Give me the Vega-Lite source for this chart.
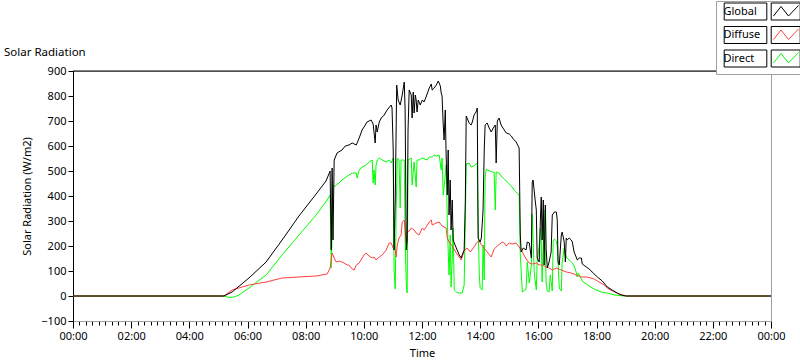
{
  "$schema": "https://vega.github.io/schema/vega-lite/v6.json",
  "width": 698,
  "height": 250,
  "autosize": {"type": "none"},
  "padding": {"left": 73, "top": 71, "right": 29, "bottom": 40},
  "background": "white",
  "config": {
    "view": {"stroke": "#a0a0a0", "strokeWidth": 1},
    "font": "Noto Sans",
    "axis": {"labelFont": "Noto Sans", "titleFont": "Noto Sans", "labelFontSize": 11, "titleFontSize": 11, "labelColor": "#000", "titleColor": "#000", "titleFontWeight": "normal", "grid": false, "tickColor": "#000"}
  },
  "title": {"text": "Solar Radiation", "anchor": "start", "frame": "group", "dx": -69, "dy": 70, "offset": 12, "fontSize": 11.5, "fontWeight": "normal", "font": "Noto Sans", "color": "#000"},
  "datasets": {
    "d": [
      {"s":"Direct","t":0,"v":0},{"s":"Direct","t":5.19,"v":0},{"s":"Direct","t":5.37,"v":-6},{"s":"Direct","t":5.54,"v":-4},{"s":"Direct","t":5.71,"v":4},{"s":"Direct","t":6.05,"v":32},{"s":"Direct","t":6.64,"v":84},{"s":"Direct","t":7.19,"v":164},{"s":"Direct","t":7.77,"v":244},{"s":"Direct","t":8.36,"v":324},{"s":"Direct","t":8.74,"v":384},{"s":"Direct","t":8.84,"v":404},{"s":"Direct","t":8.88,"v":112},{"s":"Direct","t":8.91,"v":264},{"s":"Direct","t":8.94,"v":444},{"s":"Direct","t":8.98,"v":436},{"s":"Direct","t":9.05,"v":444},{"s":"Direct","t":9.15,"v":452},{"s":"Direct","t":9.25,"v":464},{"s":"Direct","t":9.39,"v":476},{"s":"Direct","t":9.49,"v":484},{"s":"Direct","t":9.60,"v":492},{"s":"Direct","t":9.74,"v":492},{"s":"Direct","t":9.77,"v":472},{"s":"Direct","t":9.84,"v":504},{"s":"Direct","t":9.94,"v":516},{"s":"Direct","t":10.08,"v":524},{"s":"Direct","t":10.18,"v":536},{"s":"Direct","t":10.29,"v":544},{"s":"Direct","t":10.32,"v":452},{"s":"Direct","t":10.35,"v":504},{"s":"Direct","t":10.39,"v":444},{"s":"Direct","t":10.42,"v":524},{"s":"Direct","t":10.46,"v":544},{"s":"Direct","t":10.53,"v":552},{"s":"Direct","t":10.63,"v":544},{"s":"Direct","t":10.77,"v":536},{"s":"Direct","t":10.87,"v":544},{"s":"Direct","t":10.94,"v":532},{"s":"Direct","t":11.01,"v":552},{"s":"Direct","t":11.04,"v":104},{"s":"Direct","t":11.08,"v":28},{"s":"Direct","t":11.11,"v":344},{"s":"Direct","t":11.15,"v":552},{"s":"Direct","t":11.21,"v":544},{"s":"Direct","t":11.25,"v":352},{"s":"Direct","t":11.28,"v":544},{"s":"Direct","t":11.39,"v":544},{"s":"Direct","t":11.42,"v":224},{"s":"Direct","t":11.46,"v":52},{"s":"Direct","t":11.49,"v":12},{"s":"Direct","t":11.52,"v":544},{"s":"Direct","t":11.63,"v":552},{"s":"Direct","t":11.66,"v":444},{"s":"Direct","t":11.73,"v":536},{"s":"Direct","t":11.80,"v":436},{"s":"Direct","t":11.83,"v":544},{"s":"Direct","t":11.90,"v":544},{"s":"Direct","t":12.01,"v":552},{"s":"Direct","t":12.18,"v":544},{"s":"Direct","t":12.25,"v":556},{"s":"Direct","t":12.35,"v":556},{"s":"Direct","t":12.42,"v":564},{"s":"Direct","t":12.49,"v":560},{"s":"Direct","t":12.59,"v":564},{"s":"Direct","t":12.66,"v":504},{"s":"Direct","t":12.69,"v":552},{"s":"Direct","t":12.73,"v":404},{"s":"Direct","t":12.80,"v":484},{"s":"Direct","t":12.83,"v":524},{"s":"Direct","t":12.87,"v":304},{"s":"Direct","t":12.90,"v":184},{"s":"Direct","t":12.93,"v":84},{"s":"Direct","t":12.97,"v":244},{"s":"Direct","t":13.00,"v":36},{"s":"Direct","t":13.04,"v":156},{"s":"Direct","t":13.07,"v":272},{"s":"Direct","t":13.11,"v":24},{"s":"Direct","t":13.18,"v":16},{"s":"Direct","t":13.28,"v":12},{"s":"Direct","t":13.38,"v":12},{"s":"Direct","t":13.45,"v":44},{"s":"Direct","t":13.49,"v":304},{"s":"Direct","t":13.52,"v":528},{"s":"Direct","t":13.62,"v":532},{"s":"Direct","t":13.69,"v":516},{"s":"Direct","t":13.79,"v":520},{"s":"Direct","t":13.90,"v":532},{"s":"Direct","t":13.93,"v":284},{"s":"Direct","t":13.97,"v":84},{"s":"Direct","t":14.00,"v":32},{"s":"Direct","t":14.07,"v":24},{"s":"Direct","t":14.10,"v":204},{"s":"Direct","t":14.14,"v":64},{"s":"Direct","t":14.17,"v":472},{"s":"Direct","t":14.21,"v":508},{"s":"Direct","t":14.31,"v":500},{"s":"Direct","t":14.41,"v":496},{"s":"Direct","t":14.48,"v":496},{"s":"Direct","t":14.52,"v":344},{"s":"Direct","t":14.55,"v":496},{"s":"Direct","t":14.65,"v":492},{"s":"Direct","t":14.72,"v":480},{"s":"Direct","t":14.83,"v":468},{"s":"Direct","t":14.93,"v":456},{"s":"Direct","t":15.07,"v":440},{"s":"Direct","t":15.17,"v":424},{"s":"Direct","t":15.27,"v":412},{"s":"Direct","t":15.34,"v":404},{"s":"Direct","t":15.38,"v":164},{"s":"Direct","t":15.45,"v":16},{"s":"Direct","t":15.58,"v":28},{"s":"Direct","t":15.62,"v":136},{"s":"Direct","t":15.69,"v":52},{"s":"Direct","t":15.76,"v":124},{"s":"Direct","t":15.79,"v":328},{"s":"Direct","t":15.86,"v":92},{"s":"Direct","t":15.93,"v":24},{"s":"Direct","t":15.96,"v":136},{"s":"Direct","t":16.03,"v":204},{"s":"Direct","t":16.07,"v":272},{"s":"Direct","t":16.10,"v":224},{"s":"Direct","t":16.13,"v":56},{"s":"Direct","t":16.20,"v":344},{"s":"Direct","t":16.27,"v":52},{"s":"Direct","t":16.31,"v":20},{"s":"Direct","t":16.37,"v":16},{"s":"Direct","t":16.41,"v":84},{"s":"Direct","t":16.48,"v":20},{"s":"Direct","t":16.51,"v":216},{"s":"Direct","t":16.55,"v":228},{"s":"Direct","t":16.62,"v":220},{"s":"Direct","t":16.65,"v":200},{"s":"Direct","t":16.72,"v":32},{"s":"Direct","t":16.79,"v":20},{"s":"Direct","t":16.82,"v":136},{"s":"Direct","t":16.89,"v":192},{"s":"Direct","t":16.96,"v":156},{"s":"Direct","t":16.99,"v":152},{"s":"Direct","t":17.06,"v":144},{"s":"Direct","t":17.17,"v":132},{"s":"Direct","t":17.23,"v":120},{"s":"Direct","t":17.30,"v":96},{"s":"Direct","t":17.34,"v":76},{"s":"Direct","t":17.37,"v":92},{"s":"Direct","t":17.48,"v":68},{"s":"Direct","t":17.54,"v":56},{"s":"Direct","t":17.65,"v":48},{"s":"Direct","t":17.75,"v":40},{"s":"Direct","t":17.92,"v":28},{"s":"Direct","t":18.16,"v":16},{"s":"Direct","t":18.37,"v":12},{"s":"Direct","t":18.61,"v":4},{"s":"Direct","t":18.95,"v":0},{"s":"Direct","t":24,"v":0},
      {"s":"Diffuse","t":0,"v":0},{"s":"Diffuse","t":5.19,"v":0},{"s":"Diffuse","t":5.47,"v":24},{"s":"Diffuse","t":6.05,"v":44},{"s":"Diffuse","t":6.64,"v":56},{"s":"Diffuse","t":7.19,"v":72},{"s":"Diffuse","t":7.77,"v":76},{"s":"Diffuse","t":8.36,"v":80},{"s":"Diffuse","t":8.74,"v":88},{"s":"Diffuse","t":8.84,"v":112},{"s":"Diffuse","t":8.91,"v":172},{"s":"Diffuse","t":8.98,"v":152},{"s":"Diffuse","t":9.05,"v":136},{"s":"Diffuse","t":9.15,"v":140},{"s":"Diffuse","t":9.25,"v":136},{"s":"Diffuse","t":9.32,"v":132},{"s":"Diffuse","t":9.43,"v":124},{"s":"Diffuse","t":9.49,"v":124},{"s":"Diffuse","t":9.60,"v":108},{"s":"Diffuse","t":9.67,"v":104},{"s":"Diffuse","t":9.74,"v":124},{"s":"Diffuse","t":9.84,"v":132},{"s":"Diffuse","t":9.94,"v":152},{"s":"Diffuse","t":10.01,"v":164},{"s":"Diffuse","t":10.08,"v":172},{"s":"Diffuse","t":10.18,"v":160},{"s":"Diffuse","t":10.29,"v":152},{"s":"Diffuse","t":10.35,"v":156},{"s":"Diffuse","t":10.42,"v":144},{"s":"Diffuse","t":10.53,"v":156},{"s":"Diffuse","t":10.63,"v":164},{"s":"Diffuse","t":10.77,"v":184},{"s":"Diffuse","t":10.87,"v":212},{"s":"Diffuse","t":10.94,"v":212},{"s":"Diffuse","t":11.01,"v":192},{"s":"Diffuse","t":11.08,"v":184},{"s":"Diffuse","t":11.11,"v":156},{"s":"Diffuse","t":11.15,"v":204},{"s":"Diffuse","t":11.21,"v":232},{"s":"Diffuse","t":11.28,"v":244},{"s":"Diffuse","t":11.32,"v":296},{"s":"Diffuse","t":11.39,"v":304},{"s":"Diffuse","t":11.46,"v":212},{"s":"Diffuse","t":11.49,"v":256},{"s":"Diffuse","t":11.56,"v":260},{"s":"Diffuse","t":11.63,"v":272},{"s":"Diffuse","t":11.73,"v":264},{"s":"Diffuse","t":11.80,"v":252},{"s":"Diffuse","t":11.90,"v":244},{"s":"Diffuse","t":12.01,"v":272},{"s":"Diffuse","t":12.07,"v":264},{"s":"Diffuse","t":12.14,"v":276},{"s":"Diffuse","t":12.25,"v":296},{"s":"Diffuse","t":12.32,"v":304},{"s":"Diffuse","t":12.35,"v":284},{"s":"Diffuse","t":12.49,"v":292},{"s":"Diffuse","t":12.59,"v":296},{"s":"Diffuse","t":12.69,"v":280},{"s":"Diffuse","t":12.83,"v":272},{"s":"Diffuse","t":12.87,"v":232},{"s":"Diffuse","t":12.93,"v":216},{"s":"Diffuse","t":13.04,"v":200},{"s":"Diffuse","t":13.18,"v":172},{"s":"Diffuse","t":13.28,"v":156},{"s":"Diffuse","t":13.35,"v":144},{"s":"Diffuse","t":13.45,"v":180},{"s":"Diffuse","t":13.55,"v":192},{"s":"Diffuse","t":13.66,"v":176},{"s":"Diffuse","t":13.79,"v":196},{"s":"Diffuse","t":13.90,"v":216},{"s":"Diffuse","t":13.97,"v":220},{"s":"Diffuse","t":14.04,"v":204},{"s":"Diffuse","t":14.14,"v":192},{"s":"Diffuse","t":14.24,"v":176},{"s":"Diffuse","t":14.38,"v":156},{"s":"Diffuse","t":14.48,"v":188},{"s":"Diffuse","t":14.59,"v":200},{"s":"Diffuse","t":14.76,"v":216},{"s":"Diffuse","t":14.83,"v":212},{"s":"Diffuse","t":14.90,"v":200},{"s":"Diffuse","t":15.00,"v":212},{"s":"Diffuse","t":15.10,"v":208},{"s":"Diffuse","t":15.24,"v":212},{"s":"Diffuse","t":15.34,"v":196},{"s":"Diffuse","t":15.45,"v":176},{"s":"Diffuse","t":15.58,"v":148},{"s":"Diffuse","t":15.69,"v":132},{"s":"Diffuse","t":15.79,"v":128},{"s":"Diffuse","t":15.93,"v":132},{"s":"Diffuse","t":16.03,"v":124},{"s":"Diffuse","t":16.13,"v":124},{"s":"Diffuse","t":16.27,"v":116},{"s":"Diffuse","t":16.37,"v":112},{"s":"Diffuse","t":16.48,"v":104},{"s":"Diffuse","t":16.62,"v":112},{"s":"Diffuse","t":16.79,"v":104},{"s":"Diffuse","t":16.96,"v":96},{"s":"Diffuse","t":17.13,"v":92},{"s":"Diffuse","t":17.30,"v":84},{"s":"Diffuse","t":17.48,"v":76},{"s":"Diffuse","t":17.68,"v":76},{"s":"Diffuse","t":17.92,"v":68},{"s":"Diffuse","t":18.09,"v":56},{"s":"Diffuse","t":18.27,"v":44},{"s":"Diffuse","t":18.37,"v":32},{"s":"Diffuse","t":18.54,"v":20},{"s":"Diffuse","t":18.78,"v":8},{"s":"Diffuse","t":19.02,"v":0},{"s":"Diffuse","t":24,"v":0},
      {"s":"Global","t":0,"v":0},{"s":"Global","t":5.19,"v":0},{"s":"Global","t":5.47,"v":16},{"s":"Global","t":6.05,"v":72},{"s":"Global","t":6.64,"v":136},{"s":"Global","t":7.19,"v":224},{"s":"Global","t":7.77,"v":320},{"s":"Global","t":8.36,"v":408},{"s":"Global","t":8.70,"v":460},{"s":"Global","t":8.84,"v":500},{"s":"Global","t":8.88,"v":184},{"s":"Global","t":8.91,"v":512},{"s":"Global","t":8.94,"v":224},{"s":"Global","t":8.98,"v":544},{"s":"Global","t":9.08,"v":572},{"s":"Global","t":9.25,"v":584},{"s":"Global","t":9.36,"v":600},{"s":"Global","t":9.49,"v":604},{"s":"Global","t":9.60,"v":612},{"s":"Global","t":9.74,"v":604},{"s":"Global","t":9.84,"v":632},{"s":"Global","t":9.94,"v":664},{"s":"Global","t":10.05,"v":684},{"s":"Global","t":10.11,"v":696},{"s":"Global","t":10.25,"v":704},{"s":"Global","t":10.32,"v":688},{"s":"Global","t":10.39,"v":612},{"s":"Global","t":10.42,"v":684},{"s":"Global","t":10.46,"v":656},{"s":"Global","t":10.53,"v":696},{"s":"Global","t":10.60,"v":712},{"s":"Global","t":10.70,"v":724},{"s":"Global","t":10.80,"v":744},{"s":"Global","t":10.94,"v":764},{"s":"Global","t":10.97,"v":752},{"s":"Global","t":11.01,"v":584},{"s":"Global","t":11.04,"v":184},{"s":"Global","t":11.08,"v":384},{"s":"Global","t":11.13,"v":844},{"s":"Global","t":11.18,"v":784},{"s":"Global","t":11.25,"v":764},{"s":"Global","t":11.32,"v":804},{"s":"Global","t":11.39,"v":856},{"s":"Global","t":11.42,"v":744},{"s":"Global","t":11.46,"v":184},{"s":"Global","t":11.49,"v":224},{"s":"Global","t":11.52,"v":664},{"s":"Global","t":11.56,"v":824},{"s":"Global","t":11.63,"v":804},{"s":"Global","t":11.66,"v":712},{"s":"Global","t":11.70,"v":816},{"s":"Global","t":11.73,"v":732},{"s":"Global","t":11.77,"v":804},{"s":"Global","t":11.80,"v":784},{"s":"Global","t":11.83,"v":736},{"s":"Global","t":11.87,"v":784},{"s":"Global","t":11.94,"v":764},{"s":"Global","t":12.01,"v":784},{"s":"Global","t":12.07,"v":776},{"s":"Global","t":12.14,"v":796},{"s":"Global","t":12.25,"v":832},{"s":"Global","t":12.32,"v":848},{"s":"Global","t":12.35,"v":824},{"s":"Global","t":12.42,"v":832},{"s":"Global","t":12.49,"v":844},{"s":"Global","t":12.56,"v":860},{"s":"Global","t":12.63,"v":840},{"s":"Global","t":12.66,"v":812},{"s":"Global","t":12.69,"v":800},{"s":"Global","t":12.73,"v":684},{"s":"Global","t":12.76,"v":624},{"s":"Global","t":12.80,"v":744},{"s":"Global","t":12.83,"v":564},{"s":"Global","t":12.87,"v":404},{"s":"Global","t":12.90,"v":584},{"s":"Global","t":12.93,"v":324},{"s":"Global","t":12.97,"v":464},{"s":"Global","t":13.00,"v":264},{"s":"Global","t":13.04,"v":384},{"s":"Global","t":13.07,"v":224},{"s":"Global","t":13.11,"v":212},{"s":"Global","t":13.18,"v":192},{"s":"Global","t":13.28,"v":164},{"s":"Global","t":13.35,"v":152},{"s":"Global","t":13.38,"v":164},{"s":"Global","t":13.45,"v":184},{"s":"Global","t":13.49,"v":384},{"s":"Global","t":13.52,"v":720},{"s":"Global","t":13.55,"v":712},{"s":"Global","t":13.62,"v":692},{"s":"Global","t":13.69,"v":684},{"s":"Global","t":13.73,"v":696},{"s":"Global","t":13.79,"v":724},{"s":"Global","t":13.86,"v":736},{"s":"Global","t":13.90,"v":752},{"s":"Global","t":13.93,"v":232},{"s":"Global","t":14.00,"v":216},{"s":"Global","t":14.04,"v":232},{"s":"Global","t":14.10,"v":344},{"s":"Global","t":14.14,"v":584},{"s":"Global","t":14.17,"v":684},{"s":"Global","t":14.24,"v":692},{"s":"Global","t":14.31,"v":672},{"s":"Global","t":14.38,"v":656},{"s":"Global","t":14.45,"v":672},{"s":"Global","t":14.52,"v":684},{"s":"Global","t":14.55,"v":532},{"s":"Global","t":14.59,"v":700},{"s":"Global","t":14.65,"v":712},{"s":"Global","t":14.72,"v":684},{"s":"Global","t":14.76,"v":676},{"s":"Global","t":14.83,"v":664},{"s":"Global","t":14.90,"v":652},{"s":"Global","t":15.00,"v":648},{"s":"Global","t":15.07,"v":640},{"s":"Global","t":15.14,"v":628},{"s":"Global","t":15.24,"v":616},{"s":"Global","t":15.27,"v":608},{"s":"Global","t":15.34,"v":592},{"s":"Global","t":15.38,"v":244},{"s":"Global","t":15.41,"v":176},{"s":"Global","t":15.48,"v":192},{"s":"Global","t":15.58,"v":184},{"s":"Global","t":15.62,"v":216},{"s":"Global","t":15.69,"v":212},{"s":"Global","t":15.76,"v":152},{"s":"Global","t":15.79,"v":456},{"s":"Global","t":15.82,"v":464},{"s":"Global","t":15.89,"v":384},{"s":"Global","t":15.93,"v":344},{"s":"Global","t":15.96,"v":152},{"s":"Global","t":16.03,"v":136},{"s":"Global","t":16.07,"v":304},{"s":"Global","t":16.10,"v":396},{"s":"Global","t":16.13,"v":224},{"s":"Global","t":16.17,"v":384},{"s":"Global","t":16.20,"v":124},{"s":"Global","t":16.24,"v":364},{"s":"Global","t":16.27,"v":184},{"s":"Global","t":16.31,"v":112},{"s":"Global","t":16.37,"v":136},{"s":"Global","t":16.44,"v":176},{"s":"Global","t":16.48,"v":324},{"s":"Global","t":16.55,"v":336},{"s":"Global","t":16.62,"v":336},{"s":"Global","t":16.65,"v":304},{"s":"Global","t":16.68,"v":136},{"s":"Global","t":16.72,"v":124},{"s":"Global","t":16.79,"v":244},{"s":"Global","t":16.82,"v":256},{"s":"Global","t":16.89,"v":216},{"s":"Global","t":16.93,"v":136},{"s":"Global","t":16.96,"v":232},{"s":"Global","t":16.99,"v":224},{"s":"Global","t":17.06,"v":232},{"s":"Global","t":17.13,"v":224},{"s":"Global","t":17.17,"v":216},{"s":"Global","t":17.23,"v":176},{"s":"Global","t":17.30,"v":156},{"s":"Global","t":17.34,"v":144},{"s":"Global","t":17.41,"v":152},{"s":"Global","t":17.48,"v":152},{"s":"Global","t":17.51,"v":128},{"s":"Global","t":17.65,"v":116},{"s":"Global","t":17.75,"v":108},{"s":"Global","t":17.85,"v":96},{"s":"Global","t":18.03,"v":76},{"s":"Global","t":18.20,"v":60},{"s":"Global","t":18.37,"v":36},{"s":"Global","t":18.54,"v":24},{"s":"Global","t":18.71,"v":12},{"s":"Global","t":18.85,"v":4},{"s":"Global","t":19.02,"v":0},{"s":"Global","t":24,"v":0}
    ]
  },
  "data": {"name": "d"},
  "layer": [
    {
      "mark": {"type": "rule", "color": "#000", "strokeWidth": 1},
      "data": {"values": [{}]},
      "encoding": {"y": {"datum": 900}}
    },
    {
      "mark": {"type": "line", "strokeWidth": 1},
      "encoding": {
        "x": {
          "field": "t", "type": "quantitative",
          "scale": {"domain": [0, 24], "nice": false, "zero": false},
          "axis": {
            "title": "Time",
            "titlePadding": 6,
            "tickCount": 500,
            "values": [0,0.222,0.444,0.667,0.889,1.111,1.333,1.556,1.778,2,2.222,2.444,2.667,2.889,3.111,3.333,3.556,3.778,4,4.222,4.444,4.667,4.889,5.111,5.333,5.556,5.778,6,6.222,6.444,6.667,6.889,7.111,7.333,7.556,7.778,8,8.222,8.444,8.667,8.889,9.111,9.333,9.556,9.778,10,10.222,10.444,10.667,10.889,11.111,11.333,11.556,11.778,12,12.222,12.444,12.667,12.889,13.111,13.333,13.556,13.778,14,14.222,14.444,14.667,14.889,15.111,15.333,15.556,15.778,16,16.222,16.444,16.667,16.889,17.111,17.333,17.556,17.778,18,18.222,18.444,18.667,18.889,19.111,19.333,19.556,19.778,20,20.222,20.444,20.667,20.889,21.111,21.333,21.556,21.778,22,22.222,22.444,22.667,22.889,23.111,23.333,23.556,23.778,24],
            "labelExpr": "datum.value % 2 == 0 ? ((datum.value % 24 < 10 ? '0' : '') + (datum.value % 24) + ':00') : ''",
            "labelOverlap": false,
            "labelFlush": false,
            "labelBound": false,
            "labelPadding": 2,
            "tickSize": {"condition": {"test": "datum.value % 2 == 0", "value": 7}, "value": 4},
            "domainColor": "#a0a0a0"
          }
        },
        "y": {
          "field": "v", "type": "quantitative",
          "scale": {"domain": [-100, 900], "nice": false, "zero": false},
          "axis": {
            "title": "Solar Radiation (W/m2)",
            "tickCount": 100,
            "labelOverlap": false,
            "values": [-100,0,100,200,300,400,500,600,700,800,900],
            "tickSize": 5,
            "labelPadding": 2,
            "titlePadding": 8,
            "domainColor": "#000"
          }
        },
        "color": {
          "field": "s", "type": "nominal",
          "scale": {"domain": ["Global", "Diffuse", "Direct"], "range": ["#000000", "#ff4040", "#00ff00"]},
          "legend": {
            "title": null,
            "orient": "none",
            "legendX": 643,
            "legendY": -70,
            "direction": "vertical",
            "symbolType": "M-0.46,-1.7M14.74,1.7M9.4,0.9L10.9,-1L12.4,0.9L14.4,-1.2",
            "symbolSize": 100,
            "symbolStrokeWidth": 1,
            "symbolFillColor": "transparent",
            "labelFont": "Noto Sans",
            "labelFontSize": 11,
            "labelColor": "#000",
            "labelOffset": -8.5,
            "labelAlign": "left",
            "rowPadding": 2.5,
            "padding": 5,
            "fillColor": "white",
            "strokeColor": "#a0a0a0",
            "zindex": 0
          }
        }
      }
    },
    {
      "mark": {"type": "point", "opacity": 0, "filled": false, "color": "#000"},
      "encoding": {
        "x": {"field": "t", "type": "quantitative", "title": "Time"},
        "y": {"field": "v", "type": "quantitative", "title": "Solar Radiation (W/m2)"},
        "shape": {
          "field": "s", "type": "nominal",
          "scale": {"domain": ["Direct", "Diffuse", "Global"], "range": ["M-0.46,-1.7H8.06V1.7H-0.46ZM8.94,-1.7H14.74V1.7H8.94Z", "M-0.46,-1.7H8.06V1.7H-0.46ZM8.94,-1.7H14.74V1.7H8.94Z", "M-0.46,-1.7H8.06V1.7H-0.46ZM8.94,-1.7H14.74V1.7H8.94Z"]},
          "legend": {
            "title": null,
            "orient": "none",
            "legendX": 643,
            "legendY": -70,
            "direction": "vertical",
            "symbolSize": 100,
            "symbolStrokeWidth": 1,
            "symbolStrokeColor": "#000",
            "symbolFillColor": "transparent",
            "symbolOpacity": 1,
            "labelFont": "Noto Sans",
            "labelFontSize": 11,
            "labelColor": "transparent",
            "labelOffset": -8.5,
            "labelAlign": "left",
            "rowPadding": 2.5,
            "padding": 5,
            "zindex": 1
          }
        }
      }
    }
  ]
}
